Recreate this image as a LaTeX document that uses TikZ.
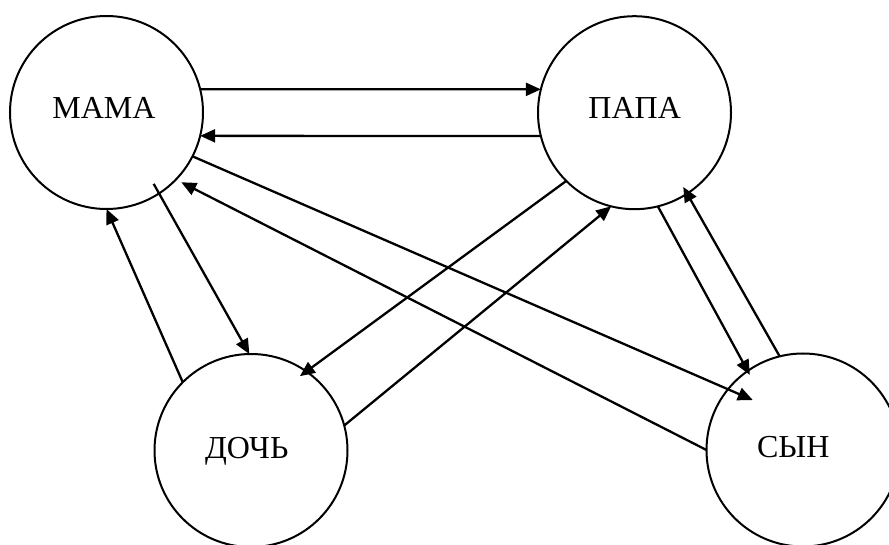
\documentclass[tikz,border=0pt]{standalone}
\usepackage{fontspec}
\setmainfont{Liberation Serif}
\usetikzlibrary{arrows.meta}
\begin{document}
\begin{tikzpicture}[x=1pt,y=-1pt,
  person/.style={circle,draw,line width=2pt,minimum size=193pt,inner sep=0pt,outer sep=0pt},
  lbl/.style={font=\fontsize{32}{36}\selectfont,inner sep=0pt,anchor=base},
  arr/.style={line width=2.3pt,-{Triangle[length=15pt,width=13pt]}}]
\useasboundingbox[fill=white] (0,0) rectangle (889,545);
\node[person] (mama) at (106.5,112.5) {};
\node[person] (papa) at (634.5,112.7) {};
\node[person] (doch) at (251,450.5) {};
\node[person] (syn) at (803,450) {};
\node[lbl] (tmama) at (104,119) {МАМА};
\node[lbl] (tpapa) at (634.7,119) {ПАПА};
\node[lbl] (tdoch) at (246.7,458) {ДОЧЬ};
\node[lbl] (tsyn) at (793.3,457.7) {СЫН};
\draw[arr] (mama.14) -- (papa.166);
\draw[arr] (papa.194) -- (mama.346);
\draw[arr,shorten >=-27pt] (mama.333) -- (syn.141);
\draw[arr,shorten >=6pt] (syn.180) -- (mama.316);
\draw[arr,shorten <=-11pt] (mama.303) -- (doch.91);
\draw[arr] (doch.135) -- (mama.270);
\draw[arr,shorten >=-8pt] (papa.225) -- (doch.55);
\draw[arr] (doch.15) -- (papa.256);
\draw[arr,shorten >=-4.5pt] (papa.284) -- (syn.125);
\draw[arr,shorten >=-7.7pt] (syn.104) -- (papa.303);
\end{tikzpicture}
\end{document}
